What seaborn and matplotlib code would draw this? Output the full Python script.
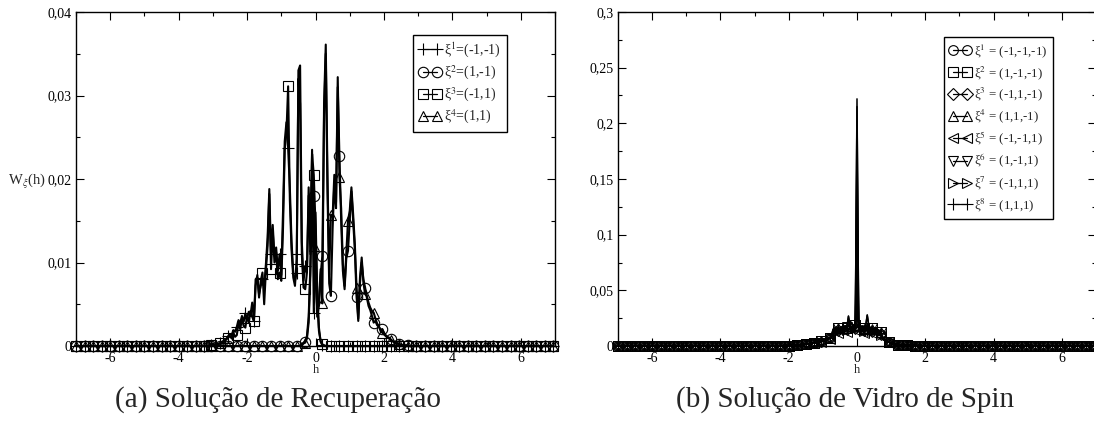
import numpy as np
import matplotlib
matplotlib.use("Agg")
import matplotlib.pyplot as plt
import seaborn as sns
from matplotlib.lines import Line2D
from matplotlib.ticker import MultipleLocator

sns.set_style("ticks")
plt.rcParams['font.family'] = ['Liberation Serif', 'DejaVu Serif']
plt.rcParams['mathtext.fontset'] = 'stix'

# ---------------- DATA ----------------
# h sampling, panel (a)
H_A_TAIL_NEG = np.linspace(-7.00, -3.25, 16)
H_A_FINE = np.linspace(-3.05, 2.95, 121)
H_A_TAIL_POS = np.linspace(3.20, 6.95, 16)
# h sampling, panel (b)
H_B_TAIL_NEG = np.linspace(-7.00, -1.25, 24)
H_B_FINE = np.linspace(-1.05, 1.20, 46)
H_B_TAIL_POS = np.linspace(1.45, 6.95, 23)

# panel (a) tails (values read as zero)
A_TAIL_NEG = [0.0] * 16
A_TAIL_POS = [0.0] * 16
A_ZERO_HALF = [0.0] * 53

# xi1 = (-1,-1), h in [-3.05, 0.30]
A_W1_CORE = [
    0.0001, 0.0002, 0.0002, 0.0002, 0.0003, 0.0003, 0.0004, 0.0006, 0.0007, 0.0009,
    0.0012, 0.0014, 0.0013, 0.0019, 0.0017, 0.0023, 0.0031, 0.0027, 0.0036, 0.0029,
    0.0039, 0.0033, 0.0041, 0.0037, 0.0052, 0.0030, 0.0080, 0.0082, 0.0062, 0.0072,
    0.0080, 0.0071, 0.0098, 0.0130, 0.0188, 0.0110, 0.0145, 0.0108, 0.0118, 0.0090,
    0.0110, 0.0085, 0.0160, 0.0245, 0.0268, 0.0237, 0.0190, 0.0125, 0.0088, 0.0078,
    0.0088, 0.0330, 0.0336, 0.0125, 0.0078, 0.0096, 0.0092, 0.0190, 0.0125, 0.0235,
    0.0040, 0.0160, 0.0065, 0.0022, 0.0005, 0.0001, 0.0000, 0.0000]
# xi3 = (-1,1), h in [-3.05, 0.30]
A_W3_CORE = [
    0.0001, 0.0001, 0.0001, 0.0002, 0.0002, 0.0003, 0.0003, 0.0004, 0.0006, 0.0008,
    0.0010, 0.0012, 0.0009, 0.0016, 0.0011, 0.0013, 0.0028, 0.0020, 0.0033, 0.0024,
    0.0022, 0.0036, 0.0028, 0.0042, 0.0035, 0.0030, 0.0072, 0.0085, 0.0058, 0.0078,
    0.0088, 0.0050, 0.0090, 0.0120, 0.0182, 0.0092, 0.0138, 0.0100, 0.0112, 0.0080,
    0.0088, 0.0078, 0.0140, 0.0235, 0.0255, 0.0311, 0.0175, 0.0115, 0.0082, 0.0072,
    0.0104, 0.0320, 0.0290, 0.0110, 0.0070, 0.0068, 0.0088, 0.0180, 0.0110, 0.0230,
    0.0205, 0.0145, 0.0055, 0.0018, 0.0006, 0.0002, 0.0001, 0.0000]
# xi2 = (1,-1), h in [-0.40, 2.95]
A_W2_CORE = [
    0.0002, 0.0004, 0.0005, 0.0012, 0.0035, 0.0095, 0.0195, 0.0180, 0.0085, 0.0035,
    0.0048, 0.0085, 0.0108, 0.0275, 0.0350, 0.0185, 0.0075, 0.0060, 0.0140, 0.0195,
    0.0165, 0.0310, 0.0227, 0.0150, 0.0090, 0.0068, 0.0105, 0.0114, 0.0150, 0.0185,
    0.0150, 0.0115, 0.0059, 0.0030, 0.0075, 0.0100, 0.0080, 0.0070, 0.0058, 0.0048,
    0.0043, 0.0036, 0.0028, 0.0030, 0.0025, 0.0023, 0.0020, 0.0020, 0.0015, 0.0013,
    0.0011, 0.0010, 0.0008, 0.0006, 0.0005, 0.0004, 0.0003, 0.0002, 0.0002, 0.0001,
    0.0001, 0.0001, 0.0001, 0.0000, 0.0000, 0.0000, 0.0000, 0.0000]
# xi4 = (1,1), h in [-0.40, 2.95]
A_W4_CORE = [
    0.0001, 0.0003, 0.0004, 0.0009, 0.0028, 0.0085, 0.0205, 0.0120, 0.0095, 0.0045,
    0.0052, 0.0092, 0.0051, 0.0290, 0.0361, 0.0205, 0.0085, 0.0157, 0.0155, 0.0205,
    0.0172, 0.0322, 0.0202, 0.0165, 0.0098, 0.0072, 0.0112, 0.0150, 0.0162, 0.0190,
    0.0158, 0.0122, 0.0070, 0.0033, 0.0082, 0.0106, 0.0076, 0.0062, 0.0060, 0.0052,
    0.0046, 0.0042, 0.0040, 0.0033, 0.0027, 0.0024, 0.0018, 0.0016, 0.0014, 0.0012,
    0.0010, 0.0009, 0.0007, 0.0006, 0.0004, 0.0003, 0.0003, 0.0002, 0.0001, 0.0001,
    0.0000, 0.0000, 0.0000, 0.0000, 0.0000, 0.0000, 0.0000, 0.0000]

A_W1 = A_TAIL_NEG + A_W1_CORE + A_ZERO_HALF + A_TAIL_POS
A_W2 = A_TAIL_NEG + A_ZERO_HALF + A_W2_CORE + A_TAIL_POS
A_W3 = A_TAIL_NEG + A_W3_CORE + A_ZERO_HALF + A_TAIL_POS
A_W4 = A_TAIL_NEG + A_ZERO_HALF + A_W4_CORE + A_TAIL_POS

A_LABELS = ['ξ$^1$=(-1,-1)', 'ξ$^2$=(1,-1)', 'ξ$^3$=(-1,1)', 'ξ$^4$=(1,1)']
A_SERIES = [A_W1, A_W2, A_W3, A_W4]

# panel (b)
B_TAIL_NEG = [0.0] * 19 + [0.0002, 0.0004, 0.0008, 0.0015, 0.0028]
B_TAIL_POS = [0.0008, 0.0004, 0.0002, 0.0001] + [0.0] * 19

B_S1 = [0.0040, 0.0046, 0.0050, 0.0056, 0.0062, 0.0070, 0.0082, 0.0120, 0.0135, 0.0128,
        0.0142, 0.0130, 0.0148, 0.0138, 0.0155, 0.0150, 0.0160, 0.0152, 0.0140, 0.0150,
        0.0165, 0.2220, 0.0160, 0.0150, 0.0158, 0.0142, 0.0150, 0.0165, 0.0150, 0.0142,
        0.0138, 0.0130, 0.0128, 0.0120, 0.0115, 0.0105, 0.0070, 0.0058, 0.0048, 0.0040,
        0.0034, 0.0028, 0.0022, 0.0018, 0.0015, 0.0012]
B_S2 = [0.0044, 0.0050, 0.0054, 0.0060, 0.0066, 0.0074, 0.0088, 0.0148, 0.0158, 0.0146,
        0.0162, 0.0150, 0.0168, 0.0156, 0.0176, 0.0165, 0.0265, 0.0180, 0.0158, 0.0172,
        0.0188, 0.0420, 0.0186, 0.0168, 0.0178, 0.0158, 0.0172, 0.0275, 0.0172, 0.0162,
        0.0158, 0.0152, 0.0158, 0.0148, 0.0138, 0.0128, 0.0078, 0.0063, 0.0053, 0.0044,
        0.0037, 0.0030, 0.0025, 0.0020, 0.0016, 0.0013]
B_S3 = [0.0038, 0.0044, 0.0048, 0.0054, 0.0060, 0.0068, 0.0080, 0.0110, 0.0125, 0.0118,
        0.0132, 0.0120, 0.0138, 0.0128, 0.0145, 0.0140, 0.0150, 0.0142, 0.0130, 0.0140,
        0.0155, 0.0600, 0.0150, 0.0140, 0.0148, 0.0132, 0.0140, 0.0155, 0.0140, 0.0132,
        0.0128, 0.0120, 0.0118, 0.0110, 0.0105, 0.0098, 0.0065, 0.0054, 0.0045, 0.0038,
        0.0032, 0.0026, 0.0021, 0.0017, 0.0014, 0.0011]
B_S4 = [0.0042, 0.0048, 0.0053, 0.0058, 0.0065, 0.0072, 0.0086, 0.0140, 0.0152, 0.0140,
        0.0158, 0.0145, 0.0165, 0.0152, 0.0170, 0.0160, 0.0185, 0.0175, 0.0155, 0.0168,
        0.0182, 0.1200, 0.0180, 0.0162, 0.0172, 0.0152, 0.0168, 0.0190, 0.0168, 0.0158,
        0.0155, 0.0148, 0.0152, 0.0142, 0.0132, 0.0122, 0.0075, 0.0060, 0.0050, 0.0042,
        0.0035, 0.0029, 0.0023, 0.0019, 0.0015, 0.0012]
B_S5 = [0.0036, 0.0042, 0.0046, 0.0052, 0.0058, 0.0065, 0.0076, 0.0100, 0.0112, 0.0105,
        0.0118, 0.0108, 0.0124, 0.0115, 0.0130, 0.0125, 0.0135, 0.0128, 0.0118, 0.0126,
        0.0140, 0.0300, 0.0138, 0.0126, 0.0134, 0.0120, 0.0128, 0.0142, 0.0128, 0.0120,
        0.0116, 0.0110, 0.0108, 0.0100, 0.0095, 0.0090, 0.0060, 0.0050, 0.0042, 0.0036,
        0.0030, 0.0025, 0.0020, 0.0016, 0.0013, 0.0010]
B_S6 = [0.0045, 0.0051, 0.0055, 0.0061, 0.0068, 0.0076, 0.0090, 0.0152, 0.0162, 0.0150,
        0.0166, 0.0155, 0.0172, 0.0160, 0.0182, 0.0170, 0.0190, 0.0184, 0.0162, 0.0176,
        0.0192, 0.0900, 0.0190, 0.0172, 0.0182, 0.0162, 0.0176, 0.0280, 0.0176, 0.0166,
        0.0162, 0.0155, 0.0160, 0.0150, 0.0140, 0.0130, 0.0080, 0.0065, 0.0055, 0.0045,
        0.0038, 0.0031, 0.0025, 0.0020, 0.0016, 0.0013]
B_S7 = [0.0039, 0.0045, 0.0049, 0.0055, 0.0061, 0.0069, 0.0081, 0.0115, 0.0130, 0.0122,
        0.0136, 0.0125, 0.0142, 0.0132, 0.0150, 0.0145, 0.0155, 0.0147, 0.0135, 0.0145,
        0.0160, 0.1800, 0.0155, 0.0145, 0.0153, 0.0137, 0.0145, 0.0160, 0.0145, 0.0137,
        0.0133, 0.0125, 0.0123, 0.0115, 0.0110, 0.0100, 0.0068, 0.0056, 0.0046, 0.0039,
        0.0033, 0.0027, 0.0022, 0.0018, 0.0014, 0.0011]
B_S8 = [0.0043, 0.0049, 0.0052, 0.0059, 0.0064, 0.0073, 0.0085, 0.0135, 0.0148, 0.0138,
        0.0152, 0.0140, 0.0158, 0.0146, 0.0165, 0.0155, 0.0270, 0.0168, 0.0148, 0.0160,
        0.0175, 0.2150, 0.0172, 0.0158, 0.0166, 0.0148, 0.0160, 0.0178, 0.0160, 0.0150,
        0.0148, 0.0140, 0.0142, 0.0135, 0.0126, 0.0116, 0.0072, 0.0060, 0.0050, 0.0041,
        0.0034, 0.0028, 0.0023, 0.0019, 0.0015, 0.0012]
B_SERIES = [B_TAIL_NEG + s + B_TAIL_POS for s in
            [B_S1, B_S2, B_S3, B_S4, B_S5, B_S6, B_S7, B_S8]]
B_LABELS = ['ξ$^1$ = (-1,-1,-1)', 'ξ$^2$ = (1,-1,-1)', 'ξ$^3$ = (-1,1,-1)',
            'ξ$^4$ = (1,1,-1)', 'ξ$^5$ = (-1,-1,1)', 'ξ$^6$ = (1,-1,1)',
            'ξ$^7$ = (-1,1,1)', 'ξ$^8$ = (1,1,1)']

X_TICKS = [-6, -4, -2, 0, 2, 4, 6]
X_TICKLABELS = ['-6', '-4', '-2', '0', '2', '4', '6']
A_YTICKS = [0, 0.01, 0.02, 0.03, 0.04]
A_YTICKLABELS = ['0', '0,01', '0,02', '0,03', '0,04']
B_YTICKS = [0, 0.05, 0.1, 0.15, 0.2, 0.25, 0.3]
B_YTICKLABELS = ['0', '0,05', '0,1', '0,15', '0,2', '0,25', '0,3']

A_MARKERS = ['+', 'o', 's', '^']
B_MARKERS = ['o', 's', 'D', '^', '<', 'v', '>', '+']

# ---------------- PLOT ----------------
W, H = 1094, 428
fig = plt.figure(figsize=(W / 100, H / 100), dpi=100)
axA = fig.add_axes([76 / W, 1 - 346 / H, 479 / W, 334 / H])
axB = fig.add_axes([618 / W, 1 - 346 / H, 478 / W, 334 / H])


def build(tneg, fine, tpos):
    h = np.concatenate([tneg, fine, tpos])
    n1, n2 = len(tneg), len(fine)
    idx = list(range(n1)) + [n1 + i for i in range(0, n2, 5)] + \
        list(range(n1 + n2, len(h)))
    return h, idx


hA, idxA = build(H_A_TAIL_NEG, H_A_FINE, H_A_TAIL_POS)
hB, idxB = build(H_B_TAIL_NEG, H_B_FINE, H_B_TAIL_POS)

for vals, mk in zip(A_SERIES, A_MARKERS):
    sns.lineplot(x=hA, y=np.array(vals), ax=axA, color='black', lw=1.5,
                 estimator=None, sort=False, marker=mk, markevery=idxA,
                 mfc='none', mec='black', mew=0.8, ms=7.5 if mk != '+' else 8,
                 clip_on=False)
for vals, mk in zip(B_SERIES, B_MARKERS):
    sns.lineplot(x=hB, y=np.array(vals), ax=axB, color='black', lw=1.1,
                 estimator=None, sort=False, marker=mk, markevery=idxB,
                 mfc='none', mec='black', mew=0.7,
                 ms=(5 if mk == 'D' else 6.5), clip_on=False)

for ax, yt, ytl, ymax, ymin_minor in [(axA, A_YTICKS, A_YTICKLABELS, 0.04, 0.005),
                                       (axB, B_YTICKS, B_YTICKLABELS, 0.3, 0.025)]:
    ax.set_xlim(-7, 7)
    ax.set_ylim(0, ymax)
    ax.set_xticks(X_TICKS)
    ax.set_xticklabels(X_TICKLABELS)
    ax.set_yticks(yt)
    ax.set_yticklabels(ytl)
    ax.xaxis.set_minor_locator(MultipleLocator(1))
    ax.yaxis.set_minor_locator(MultipleLocator(ymin_minor))
    ax.tick_params(which='both', direction='in', top=True, right=True,
                   labelsize=10, width=0.8, colors='black')
    ax.tick_params(axis='x', which='both', pad=4.5)
    ax.tick_params(axis='y', which='both', pad=3)
    ax.tick_params(which='major', length=6)
    ax.tick_params(which='minor', length=3)
    for sp in ax.spines.values():
        sp.set_linewidth(1.0)
        sp.set_color('black')
    ax.set_xlabel('h', fontsize=9, labelpad=-1)
    ax.set_ylabel('')
    if ax.get_legend():
        ax.get_legend().remove()

fig.text(8 / W, 1 - 181 / H, 'W$_ξ$(h)', ha='left', va='center', fontsize=10.5)


def proxies(markers, sizes):
    return [Line2D([], [], color='black', lw=0.9, marker=m, mfc='none', mec='black',
                   mew=0.8, ms=s) for m, s in zip(markers, sizes)]


legA = fig.legend(proxies(A_MARKERS, [8, 7.5, 7.5, 7.5]), A_LABELS, loc='upper left',
                  bbox_to_anchor=(413 / W, 1 - 35 / H), numpoints=2, fontsize=10,
                  frameon=True, fancybox=False, framealpha=1, edgecolor='black',
                  handlelength=1.6, handletextpad=0.25, borderpad=0.4,
                  labelspacing=0.3, borderaxespad=0)
legA.get_frame().set_linewidth(1.0)
legB = fig.legend(proxies(B_MARKERS, [7, 7, 6, 7, 7, 7, 7, 8]), B_LABELS, loc='upper left',
                  bbox_to_anchor=(944 / W, 1 - 37 / H), numpoints=2, fontsize=9.3,
                  frameon=True, fancybox=False, framealpha=1, edgecolor='black',
                  handlelength=1.7, handletextpad=0.25, borderpad=0.4,
                  labelspacing=0.33, borderaxespad=0)
legB.get_frame().set_linewidth(1.0)

fig.text(278 / W, 1 - 400 / H, '(a) Solução de Recuperação', ha='center', va='center',
         fontsize=21)
fig.text(845 / W, 1 - 400 / H, '(b) Solução de Vidro de Spin', ha='center', va='center',
         fontsize=21)

fig.savefig('out.png', dpi=100)
